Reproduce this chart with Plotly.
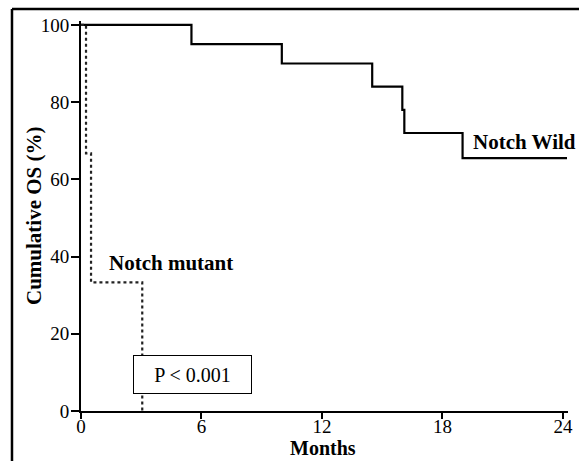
import plotly.graph_objects as go

# Kaplan-Meier step data (months, cumulative OS %)
wild_months = [0, 5.5, 10.0, 14.5, 16.0, 16.1, 19.0, 24.2]
wild_os = [100, 95, 90, 84, 78, 72, 65.5, 65.5]

mutant_months = [0, 0.25, 0.5, 3.05]
mutant_os = [100, 66.7, 33.3, 0]

x_ticks = [0, 6, 12, 18, 24]
y_ticks = [0, 20, 40, 60, 80, 100]

FONT = "Liberation Serif, Times New Roman, serif"

fig = go.Figure()
fig.add_trace(go.Scatter(x=wild_months, y=wild_os, mode="lines", line_shape="hv",
                         line=dict(color="black", width=2.2), name="Notch Wild",
                         showlegend=False))
fig.add_trace(go.Scatter(x=mutant_months, y=mutant_os, mode="lines", line_shape="hv",
                         line=dict(color="#222", width=2.2, dash="dot"), name="Notch mutant",
                         showlegend=False))

fig.add_annotation(x=22.09, y=69.7, text="<b>Notch Wild</b>", showarrow=False,
                   font=dict(family=FONT, size=21, color="black"))
fig.add_annotation(x=4.48, y=38.3, text="<b>Notch mutant</b>", showarrow=False,
                   font=dict(family=FONT, size=21, color="black"))
fig.add_annotation(x=5.55, y=9.46, text="P < 0.001", showarrow=False,
                   font=dict(family=FONT, size=20, color="black"),
                   bordercolor="black", borderwidth=1, bgcolor="white",
                   width=113, height=33, borderpad=2)

# axis titles placed as text
fig.add_annotation(xref="paper", yref="paper", x=-0.0965, y=0.5, text="<b>Cumulative OS (%)</b>",
                   textangle=-90, showarrow=False, xanchor="center", yanchor="middle",
                   font=dict(family=FONT, size=21, color="black"))
fig.add_annotation(xref="paper", yref="paper", x=0.497, y=-0.0949, text="<b>Months</b>",
                   showarrow=False, xanchor="center", yanchor="middle",
                   font=dict(family=FONT, size=20, color="black"))

# outer frame (top and left edges)
fig.add_shape(type="line", xref="paper", yref="paper", x0=-0.1417, x1=1.03, y0=1.0308, y1=1.0308,
              line=dict(color="black", width=2.5))
fig.add_shape(type="line", xref="paper", yref="paper", x0=-0.1417, x1=-0.1417, y0=1.0308, y1=-0.2,
              line=dict(color="black", width=2.5))

fig.update_layout(
    width=579, height=461,
    margin=dict(l=81, r=11, t=21, b=50),
    paper_bgcolor="white", plot_bgcolor="white",
    font=dict(family=FONT, size=19, color="black"),
)
fig.update_xaxes(range=[0, 24.25], tickvals=x_ticks, ticks="outside", ticklen=6, tickwidth=1.5,
                 tickcolor="black", showline=True, linecolor="black", linewidth=1.8,
                 showgrid=False, zeroline=False, automargin=False, ticklabelstandoff=-9,
                 tickfont=dict(family=FONT, size=19))
fig.update_yaxes(range=[0, 101], tickvals=y_ticks, ticks="outside", ticklen=8, tickwidth=1.5,
                 tickcolor="black", showline=True, linecolor="black", linewidth=1.8,
                 showgrid=False, zeroline=False, automargin=False, ticklabelstandoff=-2,
                 tickfont=dict(family=FONT, size=19))

fig.write_html("out.html", config={"displayModeBar": False},
               post_script="document.body.style.margin='0';document.body.style.overflow='hidden';")
